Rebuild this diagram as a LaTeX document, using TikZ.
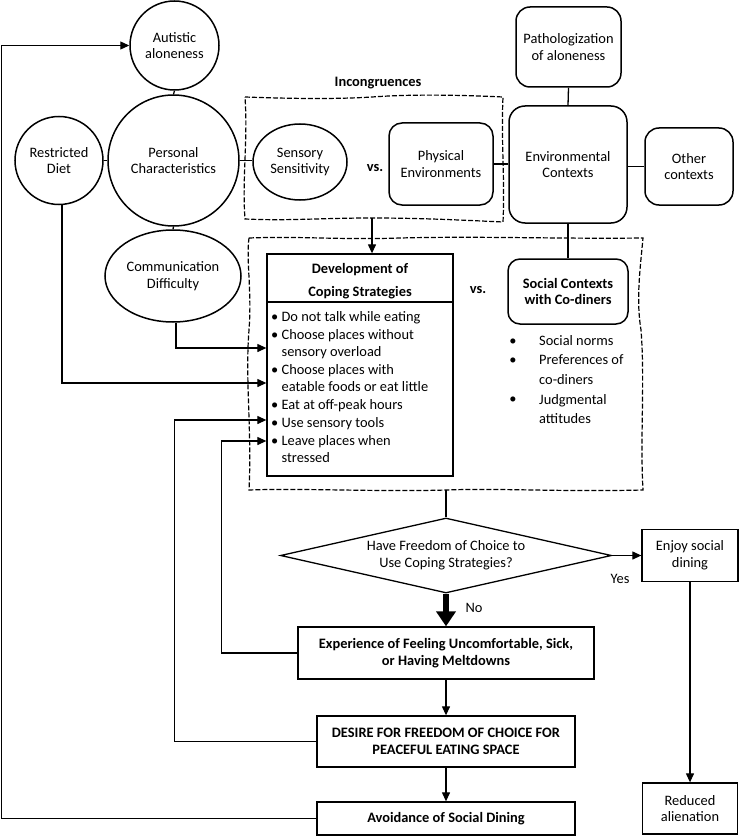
\documentclass[tikz,border=0pt]{standalone}
\usepackage{fontspec}
\setmainfont{Carlito}
\usetikzlibrary{shapes.geometric,arrows.meta}
\begin{document}
\begin{tikzpicture}[x=1pt,y=-1pt,
  every node/.style={font=\fontsize{14.4}{16.8}\selectfont},
  bftxt/.style={font=\fontsize{14.4}{16.8}\selectfont\bfseries},
  ln/.style={line width=1.3pt},
  circ/.style={circle,draw,line width=1.5pt,inner sep=0pt,align=center},
  ell/.style={ellipse,draw,line width=1.5pt,inner sep=0pt,align=center},
  rbox/.style={rectangle,rounded corners=14pt,draw,line width=1.5pt,inner sep=0pt,align=center},
  sbox/.style={rectangle,draw,line width=1.3pt,inner sep=0pt,align=center},
  arr/.style={line width=1.2pt,-{Triangle[length=9pt,width=8pt]}},
  bigarr/.style={line width=5.5pt,-{Triangle[length=15pt,width=19pt]}},
  dsh/.style={line width=1.2pt,dash pattern=on 5pt off 2pt}
]
\useasboundingbox (0,0) rectangle (741,837);

% personal side
\node[circ,minimum size=89] (aut) at (174.5,45.5) {Autistic\\aloneness};
\node[circ,minimum size=131] (pers) at (173.5,160.5) {Personal\\Characteristics};
\node[circ,minimum size=88] (diet) at (59,160.5) {Restricted\\Diet};
\node[ell,minimum width=94,minimum height=76] (sens) at (300,162) {Sensory\\Sensitivity};
\node[ell,minimum width=136,minimum height=92] (comm) at (173,276) {Communication\\Difficulty};

% environment side
\node[rbox,rounded corners=13pt,minimum width=104,minimum height=82] (phys) at (441,164) {Physical\\Environments};
\node[rbox,rounded corners=16pt,minimum width=118,minimum height=117] (env) at (568,164.5) {Environmental\\Contexts};
\node[rbox,minimum width=105,minimum height=80] (path) at (568.5,47) {Pathologization\\of aloneness};
\node[rbox,minimum width=88,minimum height=77] (other) at (689,166.5) {Other\\contexts};
\node[rbox,rounded corners=12pt,minimum width=120,minimum height=65,bftxt] (soc) at (568,291.5) {Social Contexts\\with Co-diners};

% labels
\node[bftxt] (incong) at (378,83) {Incongruences};
\node[bftxt] (vs1) at (375,168) {vs.};
\node[bftxt] (vs2) at (478,290) {vs.};

% social bullets
\node (sb1) at (513,342) {\textbullet};
\node (sb2) at (513,361) {\textbullet};
\node (sb3) at (513,400) {\textbullet};
\node[anchor=north west,inner sep=0pt,align=left,font=\fontsize{14.4}{19.6}\selectfont] (soclist) at (539,335)
  {Social norms\\Preferences of\\co-diners\\Judgmental\\attitudes};

% dashed incongruence boxes
\draw[dsh] (245,97) .. controls (300,99) and (340,99) .. (372,97)
  .. controls (400,95) and (440,94) .. (503,97)
  .. controls (501,140) and (505,180) .. (503,222)
  .. controls (460,220) and (420,218) .. (372,218)
  .. controls (320,218) and (290,221) .. (245,219)
  .. controls (242,180) and (248,140) .. (245,97) -- cycle;
\coordinate (b1) at (372,218);
\draw[dsh] (249,238) .. controls (300,236) and (340,240) .. (400,238)
  .. controls (480,236) and (560,239) .. (643,238)
  .. controls (640,270) and (636,300) .. (641,330)
  .. controls (645,380) and (640,440) .. (643,490)
  .. controls (560,492) and (500,488) .. (446,490)
  .. controls (380,492) and (300,488) .. (249,490)
  .. controls (252,430) and (245,380) .. (249,330)
  .. controls (252,290) and (246,260) .. (249,238) -- cycle;
\coordinate (b2) at (446,490);

% coping box
\node[sbox,minimum width=186,minimum height=222] (cope) at (360,365) {};
\coordinate (hl) at (0,302);
\draw[ln] (cope.west |- hl) -- (cope.east |- hl);
\node[bftxt,align=center,font=\fontsize{14.4}{23}\selectfont\bfseries] (cophd) at (360,281.5) {Development of\\Coping Strategies};
\node[anchor=north west,inner sep=0pt,align=left] (coplist) at (271,311)
 {\textbullet\ Do not talk while eating\\[1.3pt]
  \textbullet\ Choose places without\\
  \phantom{\textbullet\ }sensory overload\\[1.3pt]
  \textbullet\ Choose places with\\
  \phantom{\textbullet\ }eatable foods or eat little\\[1.3pt]
  \textbullet\ Eat at off-peak hours\\[1.3pt]
  \textbullet\ Use sensory tools\\[1.3pt]
  \textbullet\ Leave places when\\
  \phantom{\textbullet\ }stressed};

% decision flow
\node[diamond,draw,line width=1.3pt,inner sep=0pt,minimum width=331,minimum height=75] (dec) at (446,555.5) {};
\node[align=center] (dectxt) at (dec) {Have Freedom of Choice to\\Use Coping Strategies?};
\node[sbox,minimum width=96,minimum height=52] (enj) at (690,555.5) {Enjoy social\\dining};
\node[sbox,minimum width=95,minimum height=51] (red) at (690,808.5) {Reduced\\alienation};
\node[sbox,minimum width=296,minimum height=52,bftxt] (exp) at (446,653) {Experience of Feeling Uncomfortable, Sick,\\or Having Meltdowns};
\node[sbox,minimum width=258,minimum height=51,bftxt] (des) at (446,741.5) {DESIRE FOR FREEDOM OF CHOICE FOR\\PEACEFUL EATING SPACE};
\node[sbox,minimum width=258,minimum height=33,bftxt] (avo) at (446,818.5) {Avoidance of Social Dining};
\node (yes) at (620,579) {Yes};
\node (no) at (474,608) {No};

% connectors
\draw[ln] (aut.south) -- (pers.north);
\draw[ln] (diet.east) -- (pers.west);
\draw[ln] (pers.east) -- (pers.east -| sens.west);
\draw[ln] (pers.south) -- (comm.north);
\draw[ln] (phys.east) -- (phys.east -| env.west);
\draw[ln] (other.west -| env.east) -- (other.west);
\draw[ln] (path.south) -- (env.north);
\draw[ln] (env.south) -- (soc.north);
\draw[arr] (b1) -- (b1 |- cope.north);
\draw[arr] ([xshift=3pt]comm.south) |- ([yshift=17pt]cope.west);
\draw[arr] ([xshift=3pt]diet.south) |- ([yshift=-18pt]cope.west);
\draw[arr] (des.west) -- ++(-142,0) |- ([yshift=-55pt]cope.west);
\draw[arr] (exp.west) -- ++(-76,0) |- ([yshift=-76pt]cope.west);
\draw[arr] (avo.west) -- ++(-315,0) |- (aut.west);
\draw[ln] (b2) -- (dec.north);
\draw[arr] (dec.east) -- (enj.west);
\draw[bigarr] (dec.south) -- (exp.north);
\draw[arr] (exp.south) -- (des.north);
\draw[arr] (des.south) -- (avo.north);
\draw[arr] (enj.south) -- (red.north);
\end{tikzpicture}
\end{document}
